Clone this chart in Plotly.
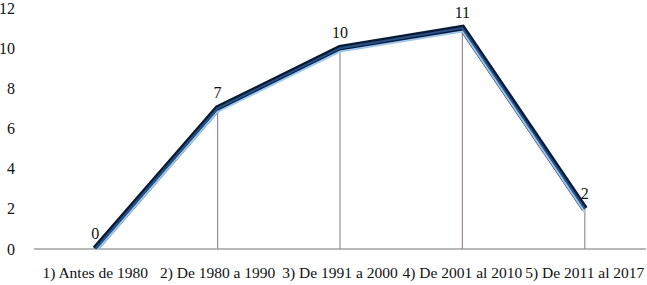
import plotly.graph_objects as go

categories = ["1) Antes de 1980", "2) De 1980 a 1990", "3) De 1991 a 2000",
              "4) De 2001 al 2010", "5) De 2011 al 2017"]
values = [0, 7, 10, 11, 2]
y_ticks = [0, 2, 4, 6, 8, 10, 12]

font_family = "Liberation Serif"

fig = go.Figure()

# drop lines from each point down to the axis
fig.add_trace(go.Scatter(
    x=categories, y=values, mode="markers",
    marker=dict(size=1, color="rgba(0,0,0,0)"),
    error_y=dict(type="data", symmetric=False, array=[0] * len(values),
                 arrayminus=values, color="#9a8f95", thickness=1.2, width=0),
    hoverinfo="skip", showlegend=False,
))

# light-blue offset line (slightly lower, 3D look)
fig.add_trace(go.Scatter(
    x=categories, y=values, mode="lines", yaxis="y2",
    line=dict(color="#9ec8ef", width=2),
    hoverinfo="skip", showlegend=False,
))

# dark outer line
fig.add_trace(go.Scatter(
    x=categories, y=values, mode="lines",
    line=dict(color="#0b1a33", width=6.5),
    hoverinfo="skip", showlegend=False,
))
# navy inner line
fig.add_trace(go.Scatter(
    x=categories, y=values, mode="lines",
    line=dict(color="#24538a", width=2),
    hoverinfo="skip", showlegend=False,
))
# data labels (on a slightly shifted axis so they sit higher above the points)
fig.add_trace(go.Scatter(
    x=categories, y=values, mode="text", yaxis="y3", cliponaxis=False,
    text=[str(v) for v in values], textposition="top center",
    textfont=dict(family=font_family, size=16, color="#111111"),
    hoverinfo="skip", showlegend=False,
))

fig.update_layout(
    width=647, height=285,
    margin=dict(l=34, r=1, t=8, b=36, autoexpand=False),
    paper_bgcolor="white", plot_bgcolor="white",
    font=dict(family=font_family, size=16, color="#111111"),
    xaxis=dict(
        type="category", range=[-0.5, 4.5], tickangle=0, automargin=False,
        showgrid=False, showline=False, ticks="",
        tickfont=dict(family=font_family, size=15.5, color="#111111"),
        zeroline=False, ticklabelstandoff=12,
    ),
    yaxis=dict(
        range=[0, 12], tickvals=y_ticks, showgrid=False, showline=False,
        automargin=False, ticklabeloverflow="allow",
        ticks="", zeroline=True, zerolinecolor="#b8b8b8", zerolinewidth=2,
        tickfont=dict(family=font_family, size=16, color="#111111"),
        ticklabelstandoff=18,
    ),
    yaxis2=dict(
        range=[0.17, 12.17], overlaying="y", visible=False,
    ),
    yaxis3=dict(
        range=[-0.3, 11.7], overlaying="y", visible=False,
    ),
)

fig.write_html("out.html", config={"displayModeBar": False},
               post_script="document.body.style.margin='0';")
